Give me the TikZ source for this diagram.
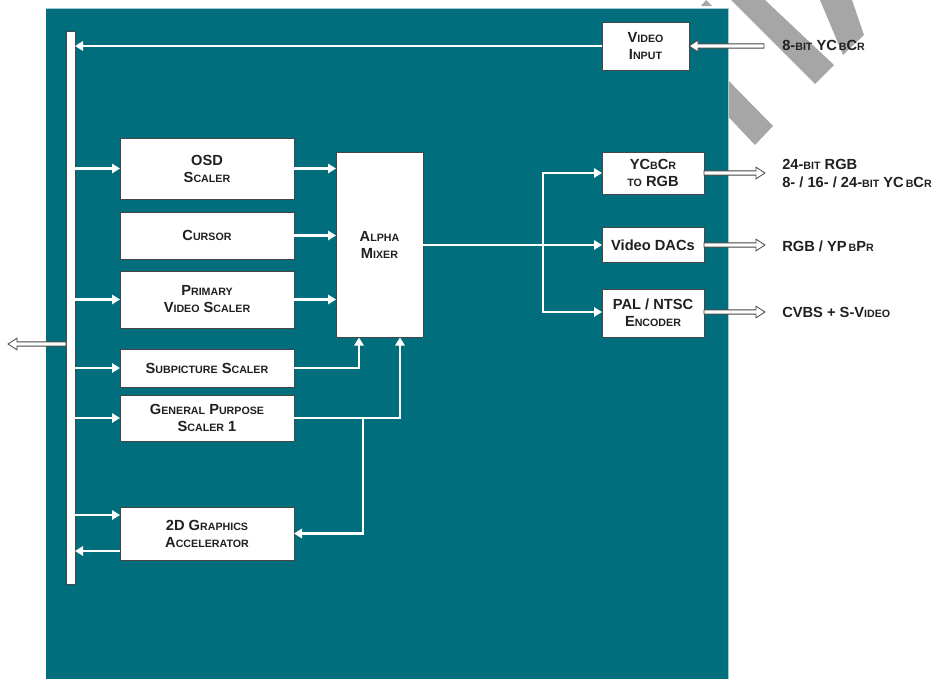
\documentclass[tikz,border=0pt]{standalone}
\usepackage{fontspec}
\setmainfont{Liberation Sans}
\usetikzlibrary{arrows.meta,calc}
\definecolor{teal0}{RGB}{0,110,124}
\definecolor{wm}{RGB}{166,166,166}
\definecolor{txt}{RGB}{35,31,32}
\definecolor{edgec}{RGB}{70,70,70}
\newcommand\smc[1]{{\fontsize{8}{9}\selectfont #1}}
\newcommand\pxu{0.75pt}
\begin{document}
\begin{tikzpicture}[x=0.75pt,y=-0.75pt,
 box/.style={draw=edgec, line width=0.6pt, fill=white, inner sep=0pt, outer sep=0pt, align=center, text=txt, font=\fontsize{11}{12.75}\selectfont\bfseries},
 wline/.style={draw=white, line width=1.8pt, -{Triangle[length=6pt,width=7pt]}},
 hollow/.style={draw=edgec, line width=0.6pt, fill=white, line join=miter,
   to path={let \p1=(\tikztostart), \p2=(\tikztotarget), \n1={sign(\x2-\x1)} in
     (\x1,{\y1-1.6pt}) -- ({\x2-\n1*6.8pt},{\y1-1.6pt}) -- ({\x2-\n1*6.8pt},{\y1-4.4pt})
     -- (\x2,\y1) -- ({\x2-\n1*6.8pt},{\y1+4.4pt}) -- ({\x2-\n1*6.8pt},{\y1+1.6pt})
     -- (\x1,{\y1+1.6pt}) -- cycle}},
 lbl/.style={anchor=west, inner sep=0pt, text=txt, font=\fontsize{11}{12.75}\selectfont\bfseries}]
\useasboundingbox (0,0) rectangle (936,679);
% watermark strokes
\fill[wm] (731,0) -- (765,0) -- (834,65) -- (815,84) -- cycle;
\fill[wm] (820,0) -- (852,0) -- (864,35) -- (843,55) -- cycle;
\fill[wm] (720,72) -- (773,126) -- (755,145) -- (720,108) -- cycle;
\fill[wm] (701,6) -- (706,0) -- (712,6) -- cycle;
% panel
\fill[teal0] (46,8) rectangle (728,679);
\draw[teal0!35!white, line width=0.6pt] (46,8) -- (728,8) -- (728,679);
% nodes
\node[box, minimum width=9*\pxu, minimum height=553*\pxu] (bus) at (70.5,307.5) {};
\node[box, minimum width=87*\pxu, minimum height=48*\pxu] (vin) at (645.5,46) {V\smc{IDEO}\\I\smc{NPUT}};
\node[box, minimum width=174*\pxu, minimum height=61*\pxu] (osd) at (207,168.5) {OSD\\S\smc{CALER}};
\node[box, minimum width=174*\pxu, minimum height=47*\pxu] (cur) at (207,235.5) {C\smc{URSOR}};
\node[box, minimum width=174*\pxu, minimum height=57*\pxu] (pri) at (207,299.5) {P\smc{RIMARY}\\V\smc{IDEO} S\smc{CALER}};
\node[box, minimum width=87*\pxu, minimum height=185*\pxu] (alpha) at (379.5,245) {A\smc{LPHA}\\M\smc{IXER}};
\node[box, minimum width=174*\pxu, minimum height=38*\pxu] (sub) at (207,368) {S\smc{UBPICTURE} S\smc{CALER}};
\node[box, minimum width=174*\pxu, minimum height=46*\pxu] (gp) at (207,418) {G\smc{ENERAL} P\smc{URPOSE}\\S\smc{CALER} 1};
\node[box, minimum width=174*\pxu, minimum height=53*\pxu] (gfx) at (207,533.5) {2D G\smc{RAPHICS}\\A\smc{CCELERATOR}};
\node[box, minimum width=102*\pxu, minimum height=42*\pxu] (ycc) at (653,173) {YC\smc{B}C\smc{R}\\\smc{TO} RGB};
\node[box, minimum width=102*\pxu, minimum height=35*\pxu] (dacs) at (653,245) {Video DACs};
\node[box, minimum width=102*\pxu, minimum height=48*\pxu] (pal) at (653,313) {PAL / NTSC\\E\smc{NCODER}};
% labels
\node[lbl] (l0) at (782,45) {8-\smc{BIT} YC\kern1.5pt\smc{B}C\smc{R}};
\node[lbl] (l1a) at (782,164) {24-\smc{BIT} RGB};
\node[lbl] (l1b) at (782,182) {8- / 16- / 24-\smc{BIT} YC\kern1.5pt\smc{B}C\smc{R}};
\node[lbl] (l2) at (782,246) {RGB / YP\kern1.5pt\smc{B}P\smc{R}};
\node[lbl] (l3) at (782,312) {CVBS + S-V\smc{IDEO}};
% helper coordinates
\coordinate (vsrc) at (764,46);
\coordinate (ox) at (765,0);
\coordinate (lx) at (8,344);
\coordinate (br) at (543,245);
\coordinate (jn) at (363,418);
\path (gfx.west) ++(0,-18.5) coordinate (g1);
\path (gfx.west) ++(0,17.5) coordinate (g2);
% white connectors
\draw[wline] (vin.west) -- (vin.west -| bus.east);
\draw[wline] (bus.east |- osd.west) -- (osd.west);
\draw[wline] (bus.east |- pri.west) -- (pri.west);
\draw[wline] (bus.east |- sub.west) -- (sub.west);
\draw[wline] (bus.east |- gp.west) -- (gp.west);
\draw[wline] (g1 -| bus.east) -- (g1);
\draw[wline] (g2) -- (g2 -| bus.east);
\draw[wline] (osd.east) -- (osd.east -| alpha.west);
\draw[wline] (cur.east) -- (cur.east -| alpha.west);
\draw[wline] (pri.east) -- (pri.east -| alpha.west);
\draw[wline] (sub.east) -| ([xshift=-20.5*\pxu]alpha.south);
\draw[wline] (gp.east) -| ([xshift=20.5*\pxu]alpha.south);
\draw[wline] (jn) |- (gfx.east);
\draw[wline] (alpha.east) -- (dacs.west);
\draw[wline] (br) |- (ycc.west);
\draw[wline] (br) |- ([yshift=0.75pt]pal.west);
% hollow connectors
\draw[hollow] (vsrc) to (vin.east);
\draw[hollow] (ycc.east) to (ycc.east -| ox);
\draw[hollow] (dacs.east) to (dacs.east -| ox);
\draw[hollow] ([yshift=0.75pt]pal.east) to ([yshift=0.75pt]pal.east -| ox);
\draw[hollow] (bus.west |- lx) to (lx);
\end{tikzpicture}
\end{document}
